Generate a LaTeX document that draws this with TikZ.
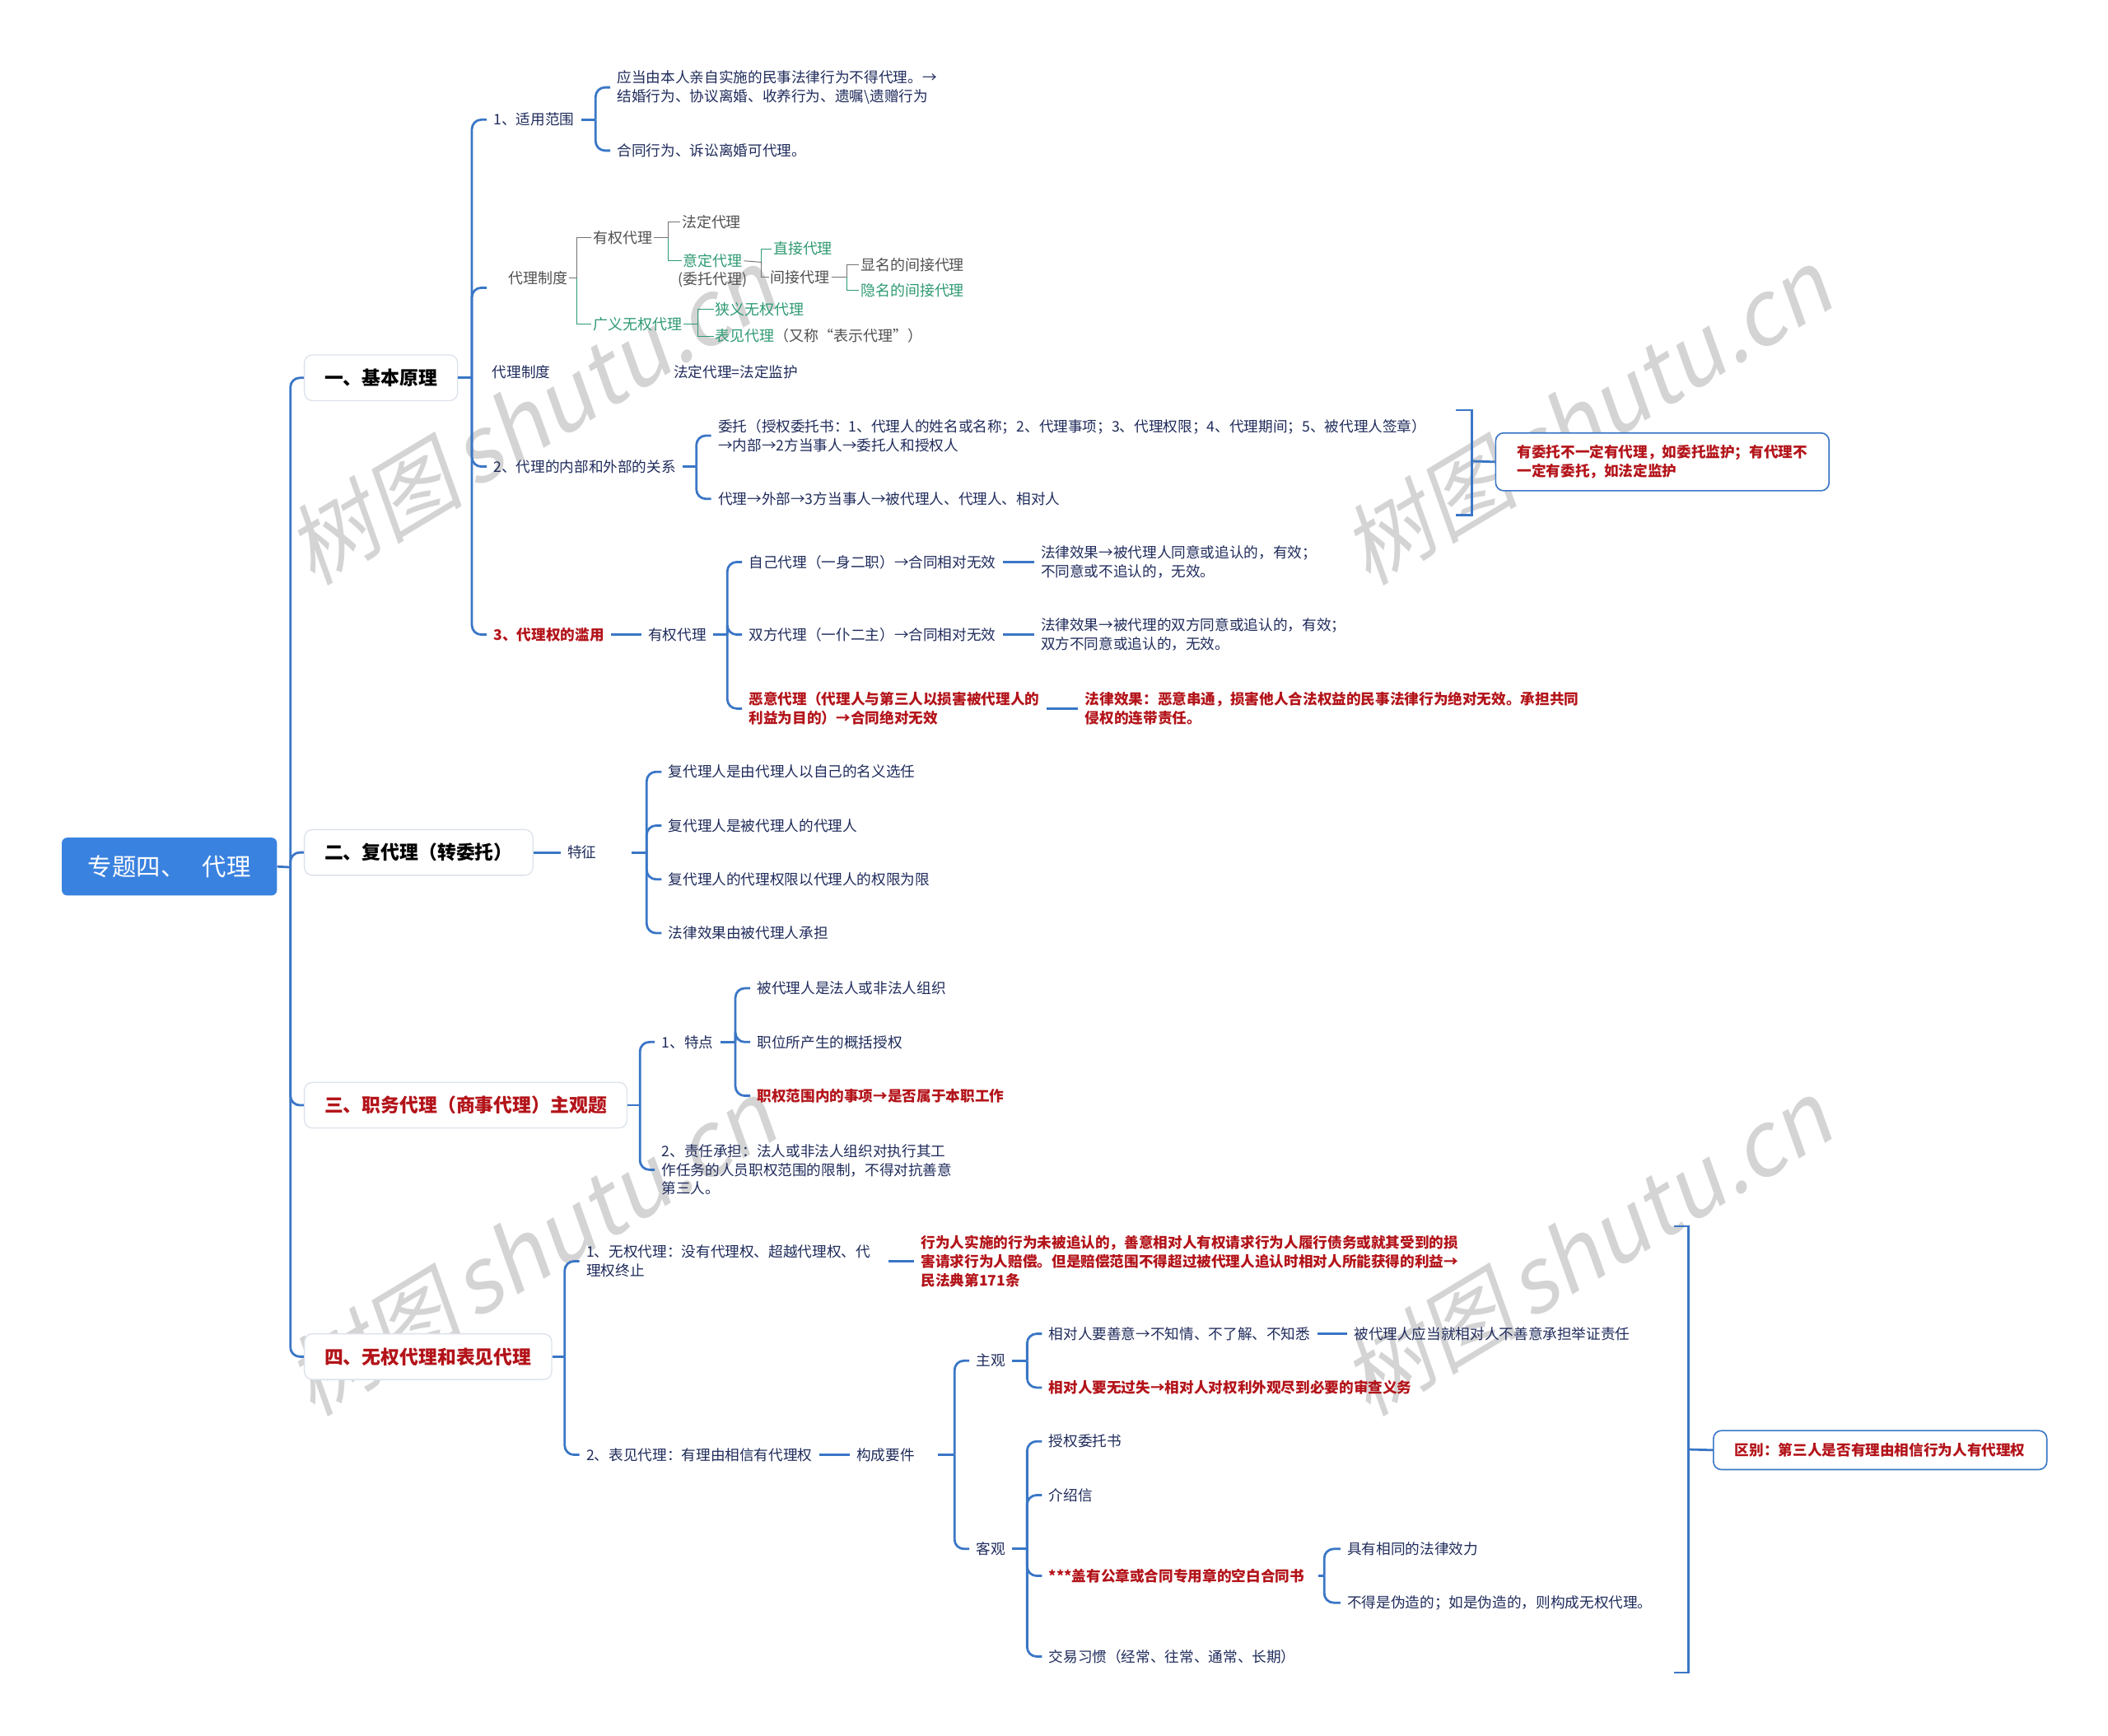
\documentclass[tikz,border=0pt]{standalone}
\usepackage{fontspec}
\setmainfont{Noto Sans CJK SC}
\newfontfamily\wmfont{Noto Sans CJK SC}[FakeSlant=0.2]
\definecolor{ink}{HTML}{1F2B5B}
\definecolor{redc}{HTML}{B3141A}
\definecolor{lineb}{HTML}{3A76C6}
\definecolor{rootb}{HTML}{3A82E0}
\definecolor{boxg}{HTML}{DCE2EA}
\definecolor{imgk}{HTML}{505050}
\definecolor{imgt}{HTML}{2E9A72}
\tikzset{
  tx/.style={anchor=west, inner xsep=5pt, inner ysep=1pt, align=left, text=ink, font=\fontsize{10.8}{14}\selectfont},
  tr/.style={tx, text=redc, font=\fontsize{10.8}{14}\selectfont\bfseries},
  conn/.style={draw=lineb, line width=1.7pt},
  brk/.style={conn, rounded corners=7pt},
  lvone/.style={draw=boxg, line width=0.8pt, fill=white, rounded corners=6pt, anchor=west, minimum height=34pt, inner xsep=15pt, font=\fontsize{14}{16}\selectfont\bfseries, text=black},
  rootst/.style={fill=rootb, text=white, rounded corners=4pt, minimum width=160pt, minimum height=43pt, inner sep=0pt, font=\fontsize{18}{20}\selectfont},
  sumbox/.style={draw=lineb, line width=1pt, rounded corners=6pt, fill=white, anchor=west, align=left, text=redc, font=\fontsize{10.8}{14}\selectfont\bfseries, inner xsep=16pt},
  gi/.style={anchor=west, inner sep=1pt, text=imgk, font=\fontsize{11}{12}\selectfont},
  gg/.style={gi, text=imgt},
  glk/.style={draw=imgk!80, line width=0.6pt},
  glg/.style={draw=imgt, line width=0.6pt},
  wm/.style={text=black!17, font=\wmfont\fontsize{66}{66}\selectfont, rotate=31, inner sep=0pt},
}
\begin{document}
\begin{tikzpicture}[x=1pt,y=-1pt]
\useasboundingbox (0,0) rectangle (1568,1291);
% watermarks
\node[wm] (w1) at (395,310) {树图\hspace{8pt}shutu.cn};
\node[wm] (w2) at (1180,310) {树图\hspace{8pt}shutu.cn};
\node[wm] (w3) at (395,928) {树图\hspace{8pt}shutu.cn};
\node[wm] (w4) at (1180,928) {树图\hspace{8pt}shutu.cn};

% root
\node[rootst] (root) at (126,644.5) {专题四、\hspace{13pt}代理};
\node[lvone] (b1) at (226,281) {一、基本原理};
\node[lvone] (b2) at (226,634) {二、复代理（转委托）};
\node[lvone, text=redc] (b3) at (226,822) {三、职务代理（商事代理）主观题};
\node[lvone, text=redc] (b4) at (226,1009) {四、无权代理和表见代理};
\coordinate (rj) at (216,645);
\draw[conn] (root.east) -- (rj);
\foreach \n in {b1,b2,b3,b4} \draw[brk] (rj) |- (\n.west);

% ---- B1
\coordinate (j1) at (351,281);
\draw[conn] (b1.east) -- (j1);
\node[tx] (a1) at (362,89) {1、适用范围};
\coordinate (aimg) at (362,214);
\node[tx] (a2) at (362,347) {2、代理的内部和外部的关系};
\node[tr] (a3) at (362,472) {3、代理权的滥用};
\foreach \n in {a1,a2,a3} \draw[brk] (j1) |- (\n.west);
\draw[brk] (j1) |- (aimg);

\coordinate (ja1) at (443,89);
\draw[conn] (a1.east) -- (ja1);
\node[tx] (c11) at (454,65) {应当由本人亲自实施的民事法律行为不得代理。→\\结婚行为、协议离婚、收养行为、遗嘱\textbackslash 遗赠行为};
\node[tx] (c12) at (454,112) {合同行为、诉讼离婚可代理。};
\draw[brk] (ja1) |- (c11.west);
\draw[brk] (ja1) |- (c12.west);

% image tree
\node[gi] (i0) at (377,207) {代理制度};
\node[gi] (i1) at (440,177) {有权代理};
\node[gi] (i2) at (506,165) {法定代理};
\node[gg] (i3) at (507,194) {意定代理};
\node[gi] (i3b) at (503,208) {(委托代理)};
\node[gg] (i4) at (574,185) {直接代理};
\node[gi] (i5) at (572,206) {间接代理};
\node[gi] (i6) at (639,197) {显名的间接代理};
\node[gg] (i7) at (639,216) {隐名的间接代理};
\node[gg] (i8) at (440,241) {广义无权代理};
\node[gg] (i9) at (531,230) {狭义无权代理};
\node[gi] (i10) at (531,250) {\textcolor{imgt}{表见代理}（又称“表示代理”）};
\coordinate (k0) at (429,207);
\draw[glk] (i0.east) -- (k0);
\draw[glk] (k0) |- (i1.west);
\draw[glg] (k0) |- (i8.west);
\coordinate (k1) at (497,177);
\draw[glk] (i1.east) -- (k1);
\draw[glk] (k1) |- (i2.west);
\draw[glg] (k1) |- (i3.west);
\coordinate (k3) at (566,195);
\draw[glk] (i3.east) -- (k3);
\draw[glg] (k3) |- (i4.west);
\draw[glk] (k3) |- (i5.west);
\coordinate (k5) at (630,206);
\draw[glk] (i5.east) -- (k5);
\draw[glk] (k5) |- (i6.west);
\draw[glg] (k5) |- (i7.west);
\coordinate (k8) at (519,241);
\draw[glg] (i8.east) -- (k8);
\draw[glg] (k8) |- (i9.west);
\draw[glg] (k8) |- (i10.west);

\node[tx] (zd) at (361,277) {代理制度};
\node[tx] (fd) at (496,277) {法定代理=法定监护};

% a2
\coordinate (ja2) at (518,347);
\draw[conn] (a2.east) -- (ja2);
\node[tx] (c21) at (529,324) {委托（授权委托书：1、代理人的姓名或名称；2、代理事项；3、代理权限；4、代理期间；5、被代理人签章）\\→内部→2方当事人→委托人和授权人};
\node[tx] (c22) at (529,371) {代理→外部→3方当事人→被代理人、代理人、相对人};
\draw[brk] (ja2) |- (c21.west);
\draw[brk] (ja2) |- (c22.west);
\coordinate (s1a) at (1083,305);
\coordinate (s1m) at (1095,343);
\coordinate (s1b) at (1083,383);
\draw[conn] (s1a) -| (s1m) |- (s1b);
\node[sumbox, minimum width=248pt, minimum height=43pt] (sum1) at (1112,343.5) {有委托不一定有代理，如委托监护；有代理不\\一定有委托，如法定监护};
\draw[conn] (s1m) -- (sum1.west);

% a3
\node[tx] (yq) at (477,472) {有权代理};
\draw[conn] (a3.east) -- (yq.west);
\coordinate (ja3) at (541,472);
\draw[conn] (yq.east) -- (ja3);
\node[tx] (d1) at (552,418) {自己代理（一身二职）→合同相对无效};
\node[tx] (d2) at (552,472) {双方代理（一仆二主）→合同相对无效};
\node[tr] (d3) at (552,527) {恶意代理（代理人与第三人以损害被代理人的\\利益为目的）→合同绝对无效};
\foreach \n in {d1,d2,d3} \draw[brk] (ja3) |- (\n.west);
\node[tx] (e1) at (769,418) {法律效果→被代理人同意或追认的，有效；\\不同意或不追认的，无效。};
\node[tx] (e2) at (769,472) {法律效果→被代理的双方同意或追认的，有效；\\双方不同意或追认的，无效。};
\node[tr] (e3) at (802,527) {法律效果：恶意串通，损害他人合法权益的民事法律行为绝对无效。承担共同\\侵权的连带责任。};
\draw[conn] (d1.east) -- (e1.west);
\draw[conn] (d2.east) -- (e2.west);
\draw[conn] (d3.east) -- (e3.west);

% ---- B2
\node[tx] (tz) at (417,634) {特征};
\draw[conn] (b2.east) -- (tz.west);
\coordinate (jz) at (481,634);
\draw[conn] ([xshift=21pt]tz.east) -- (jz);
\node[tx] (z1) at (492,574) {复代理人是由代理人以自己的名义选任};
\node[tx] (z2) at (492,614) {复代理人是被代理人的代理人};
\node[tx] (z3) at (492,654) {复代理人的代理权限以代理人的权限为限};
\node[tx] (z4) at (492,694) {法律效果由被代理人承担};
\foreach \n in {z1,z2,z3,z4} \draw[brk] (jz) |- (\n.west);

% ---- B3
\coordinate (jb3) at (476,822);
\draw[conn] (b3.east) -- (jb3);
\node[tx] (td) at (487,775) {1、特点};
\node[tx] (zr) at (487,870) {2、责任承担：法人或非法人组织对执行其工\\作任务的人员职权范围的限制，不得对抗善意\\第三人。};
\draw[brk] (jb3) |- (td.west);
\draw[brk] (jb3) |- (zr.west);
\coordinate (jt) at (547,775);
\draw[conn] (td.east) -- (jt);
\node[tx] (t1) at (558,735) {被代理人是法人或非法人组织};
\node[tx] (t2) at (558,775) {职位所产生的概括授权};
\node[tr] (t3) at (558,815) {职权范围内的事项→是否属于本职工作};
\foreach \n in {t1,t2,t3} \draw[brk] (jt) |- (\n.west);

% ---- B4
\coordinate (jb4) at (420,1009);
\draw[conn] (b4.east) -- (jb4);
\node[tx] (f1) at (431,938) {1、无权代理：没有代理权、超越代理权、代\\理权终止};
\node[tx] (f2) at (431,1082) {2、表见代理：有理由相信有代理权};
\draw[brk] (jb4) |- (f1.west);
\draw[brk] (jb4) |- (f2.west);
\node[tr] (g1) at (680,938) {行为人实施的行为未被追认的，善意相对人有权请求行为人履行债务或就其受到的损\\害请求行为人赔偿。但是赔偿范围不得超过被代理人追认时相对人所能获得的利益→\\民法典第171条};
\draw[conn] ([xshift=8pt]f1.east) -- (g1.west);
\node[tx] (gj) at (632,1082) {构成要件};
\draw[conn] (f2.east) -- (gj.west);
\coordinate (jg) at (710,1082);
\draw[conn] ([xshift=12pt]gj.east) -- (jg);
\node[tx] (zg) at (721,1012) {主观};
\node[tx] (kg) at (721,1152) {客观};
\draw[brk] (jg) |- (zg.west);
\draw[brk] (jg) |- (kg.west);
\coordinate (jzg) at (764,1012);
\draw[conn] (zg.east) -- (jzg);
\node[tx] (h1) at (775,992) {相对人要善意→不知情、不了解、不知悉};
\node[tr] (h2) at (775,1032) {相对人要无过失→相对人对权利外观尽到必要的审查义务};
\draw[brk] (jzg) |- (h1.west);
\draw[brk] (jzg) |- (h2.west);
\node[tx] (h1b) at (1002,992) {被代理人应当就相对人不善意承担举证责任};
\draw[conn] (h1.east) -- (h1b.west);
\coordinate (jkg) at (764,1152);
\draw[conn] (kg.east) -- (jkg);
\node[tx] (m1) at (775,1072) {授权委托书};
\node[tx] (m2) at (775,1112) {介绍信};
\node[tr] (m3) at (775,1172) {***盖有公章或合同专用章的空白合同书};
\node[tx] (m4) at (775,1232) {交易习惯（经常、往常、通常、长期）};
\foreach \n in {m1,m2,m3,m4} \draw[brk] (jkg) |- (\n.west);
\coordinate (jm3) at (985,1172);
\draw[conn] ([xshift=5pt]m3.east) -- (jm3);
\node[tx] (n1) at (997,1152) {具有相同的法律效力};
\node[tx] (n2) at (997,1192) {不得是伪造的；如是伪造的，则构成无权代理。};
\draw[brk] (jm3) |- (n1.west);
\draw[brk] (jm3) |- (n2.west);

\coordinate (s2a) at (1245,912);
\coordinate (s2m) at (1256,1078);
\coordinate (s2b) at (1245,1244);
\draw[conn] (s2a) -| (s2m) |- (s2b);
\node[sumbox, minimum width=247pt, minimum height=29pt, align=center] (sum2) at (1274,1078.5) {区别：第三人是否有理由相信行为人有代理权};
\draw[conn] (s2m) -- (sum2.west);
\end{tikzpicture}
\end{document}
